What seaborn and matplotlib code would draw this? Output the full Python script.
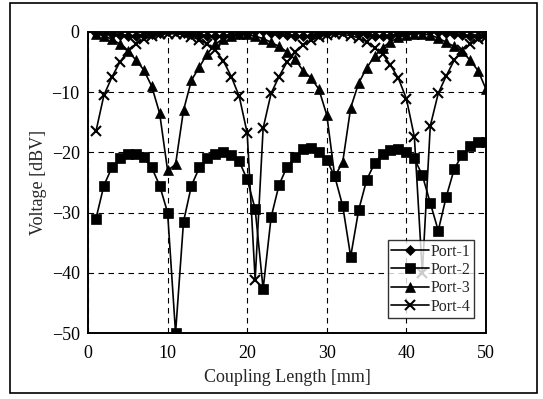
import numpy as np
import pandas as pd
import matplotlib
matplotlib.use('Agg')
import matplotlib.pyplot as plt
import seaborn as sns

# coupling length [mm]
length = list(range(1, 51))

port1 = [-0.1, -0.2, -0.4, -0.5, -0.6, -0.6, -0.5, -0.3, -0.1, 0.1,
         0.1, -0.1, -0.3, -0.5, -0.6, -0.7, -0.6, -0.5, -0.3, -0.1,
         0.1, 0.1, -0.1, -0.3, -0.5, -0.6, -0.7, -0.6, -0.4, -0.2,
         0.0, 0.1, 0.0, -0.2, -0.4, -0.6, -0.7, -0.6, -0.4, -0.2,
         0.0, 0.1, 0.1, 0.0, -0.2, -0.4, -0.5, -0.6, -0.6, -0.5]

port2 = [-31.0, -25.5, -22.5, -21.0, -20.3, -20.2, -20.8, -22.5, -25.5, -30.0,
         -50.0, -31.5, -25.5, -22.5, -21.0, -20.2, -19.9, -20.4, -21.5, -24.5,
         -29.4, -42.7, -30.8, -25.4, -22.4, -20.8, -19.5, -19.3, -20.0, -21.3,
         -24.0, -28.9, -37.3, -29.6, -24.6, -21.8, -20.2, -19.6, -19.4, -19.9,
         -21.0, -23.8, -28.4, -33.0, -27.4, -22.8, -20.4, -19.0, -18.3, -18.3]

port3 = [-0.3, -0.6, -1.2, -2.0, -3.2, -4.6, -6.3, -9.0, -13.5, -23.0,
         -22.0, -13.0, -8.0, -5.8, -3.6, -2.0, -1.1, -0.6, -0.3, -0.4,
         -0.7, -1.1, -1.7, -2.4, -3.3, -4.5, -6.4, -7.6, -9.5, -13.8,
         -24.0, -21.6, -12.6, -8.5, -6.0, -4.0, -2.6, -1.6, -0.9, -0.5,
         -0.3, -0.3, -0.5, -1.0, -1.7, -2.4, -3.2, -4.7, -6.4, -9.5]

port4 = [-16.5, -10.5, -7.5, -5.0, -3.2, -2.0, -1.2, -0.7, -0.4, -0.3,
         -0.3, -0.4, -0.8, -1.3, -2.0, -3.0, -4.8, -7.4, -10.7, -16.8,
         -41.2, -16.0, -10.2, -7.4, -5.0, -3.4, -2.2, -1.4, -0.8, -0.5,
         -0.4, -0.4, -0.6, -1.0, -1.6, -2.6, -3.6, -5.5, -7.7, -11.1,
         -17.4, -40.0, -15.6, -10.2, -7.3, -4.7, -3.0, -2.0, -1.2, -0.8]

ports = ['Port-1', 'Port-2', 'Port-3', 'Port-4']
marks = ['D', 's', '^', 'x']
sizes = [5, 7, 7, 7]

df = pd.DataFrame({'length': length * 4,
                   'voltage': port1 + port2 + port3 + port4,
                   'port': np.repeat(ports, len(length))})

sns.set_style('white')
plt.rcParams['font.family'] = ['Liberation Serif', 'DejaVu Serif']

fig = plt.figure(figsize=(5.43, 3.99), dpi=100)
ax = fig.add_axes([88 / 543, 1 - 333 / 399, 398 / 543, 301 / 399])

for name, m, ms in zip(ports, marks, sizes):
    sub = df[df['port'] == name]
    sns.lineplot(data=sub, x='length', y='voltage', ax=ax, color='black',
                 marker=m, markersize=ms, markeredgecolor='black',
                 markeredgewidth=1.5 if m == 'x' else 0.5,
                 linewidth=1.2, label=name)

ax.set_xlim(0, 50)
ax.set_ylim(-50, 0)
ax.set_xticks([0, 10, 20, 30, 40, 50])
ax.set_yticks([0, -10, -20, -30, -40, -50])
ax.grid(True, color='black', linestyle=(0, (5, 4)), linewidth=0.8)
for sp in ax.spines.values():
    sp.set_color('black')
    sp.set_linewidth(1.4)
ax.tick_params(direction='in', length=3, labelsize=13, colors='black')
ax.tick_params(axis='x', pad=9)
ax.tick_params(axis='y', pad=6)
ax.set_xlabel('Coupling Length [mm]', fontsize=13, labelpad=5)
ax.set_ylabel('Voltage [dBV]', fontsize=13, labelpad=3)

leg = ax.legend(loc='lower right', bbox_to_anchor=(0.97, 0.05), fontsize=11.5,
                frameon=True, fancybox=False, edgecolor='black',
                borderpad=0.2, labelspacing=0.15, handlelength=2.4,
                handletextpad=0.1, borderaxespad=0)
leg.get_frame().set_linewidth(1.0)

# outer frame around the whole picture
fig.patches.append(plt.Rectangle((10 / 543, 6 / 399), 527 / 543, 390 / 399,
                                 transform=fig.transFigure, fill=False,
                                 edgecolor='black', linewidth=1.2))

fig.savefig('out.png', dpi=100)
